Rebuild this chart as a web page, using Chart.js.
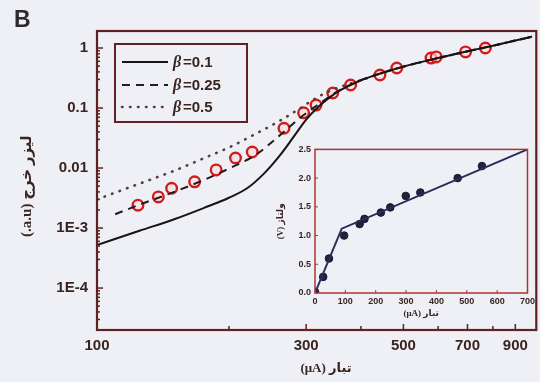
<!DOCTYPE html>
<html>
<head>
<meta charset="utf-8">
<script src="https://cdn.jsdelivr.net/npm/chart.js@4.4.0/dist/chart.umd.min.js"></script>
<style>
  html, body { margin: 0; padding: 0; background: #eef0f5; }
  #wrap { position: relative; width: 540px; height: 382px; overflow: hidden; }
  #mainChart { position: absolute; left: 0; top: 0; }
  #insetChart { position: absolute; left: 268px; top: 140px; }
  #panel { position: absolute; left: 14px; top: 6px; font: bold 23px 'Liberation Sans', Arial, sans-serif; color: #2b2b2b; }
</style>
</head>
<body>
<div id="wrap">
  <canvas id="mainChart" width="540" height="382"></canvas>
  <canvas id="insetChart" width="270" height="185"></canvas>
  <div id="panel">B</div>
</div>
<script>
// main plot: model curves (log-log), one current grid per curve
const solidCurrent = [100, 125, 150, 175, 200, 220, 240, 260, 280, 300, 320, 340, 360, 400, 450, 500, 600, 700, 800, 900, 984];
const beta01 = [5.2e-4, 9.0e-4, 1.4e-3, 2.15e-3, 3.2e-3, 4.6e-3, 8.0e-3, 0.0155, 0.032, 0.064, 0.105, 0.152, 0.2, 0.29, 0.39, 0.49, 0.68, 0.88, 1.09, 1.33, 1.55];

const dashCurrent = [110, 125, 150, 175, 200, 230, 260, 290, 320, 350, 400, 450, 500, 600, 700, 800, 900, 984];
const beta025 = [1.7e-3, 2.45e-3, 4.0e-3, 6.3e-3, 9.8e-3, 0.0165, 0.034, 0.068, 0.115, 0.18, 0.29, 0.39, 0.49, 0.68, 0.88, 1.09, 1.33, 1.55];

const dotCurrent = [100, 125, 150, 175, 200, 230, 260, 290, 320, 350, 400, 450, 500, 600, 700, 800, 900, 984];
const beta05 = [3.0e-3, 5.5e-3, 9.0e-3, 0.0145, 0.022, 0.037, 0.06, 0.098, 0.155, 0.21, 0.29, 0.39, 0.49, 0.68, 0.88, 1.09, 1.33, 1.55];

// main plot: measured points (red circles)
const expCurrent = [124, 138, 148, 167, 187, 207, 226, 267, 296, 316, 345, 379, 442, 483, 578, 594, 693, 769];
const expOutput  = [2.4e-3, 3.3e-3, 4.6e-3, 5.9e-3, 9.3e-3, 0.0147, 0.0185, 0.046, 0.083, 0.112, 0.178, 0.242, 0.355, 0.464, 0.68, 0.71, 0.86, 1.0];

const xTicks = [100, 300, 500, 700, 900];
const yTicks = [1e-4, 1e-3, 0.01, 0.1, 1];
const yTickLabels = ['1E-4', '1E-3', '0.01', '0.1', '1'];

// inset: voltage vs current
const insetCurrent = [0, 27, 46, 96, 147, 163, 217, 248, 299, 347, 470, 550];
const insetVoltage = [0.02, 0.28, 0.60, 1.0, 1.20, 1.29, 1.40, 1.49, 1.69, 1.75, 2.0, 2.21];
const fitCurrent = [0, 88, 700];
const fitVoltage = [0, 1.12, 2.5];
const insetXTicks = [0, 100, 200, 300, 400, 500, 600, 700];
const insetYTicks = [0, 0.5, 1.0, 1.5, 2.0, 2.5];

const bg = '#eef0f5';
const frameColor = '#5e2222';
const textColor = '#3a2420';
const numFont = "'Liberation Sans', Arial, sans-serif";
const titleFont = "'Liberation Serif', 'DejaVu Sans', serif";

function toPoints(xs, ys) {
  return xs.map((x, i) => ({ x: x, y: ys[i] }));
}

// frame + inward tick marks for the main plot
const mainFrame = {
  id: 'mainFrame',
  afterDraw(chart) {
    const ctx = chart.ctx, a = chart.chartArea;
    const xs = chart.scales.x, ys = chart.scales.y;
    ctx.save();
    ctx.strokeStyle = frameColor;
    ctx.lineWidth = 1.5;
    for (let e = -5; e <= 0; e++) {
      for (let k = 1; k <= 9; k++) {
        const v = k * Math.pow(10, e);
        if (v < ys.min || v > ys.max) continue;
        const py = ys.getPixelForValue(v);
        const len = k === 1 ? 6 : 3;
        ctx.beginPath(); ctx.moveTo(a.left, py); ctx.lineTo(a.left + len, py); ctx.stroke();
      }
    }
    for (let v = 100; v <= 900; v += 100) {
      const px = xs.getPixelForValue(v);
      const len = xTicks.includes(v) ? 6 : 4;
      ctx.beginPath(); ctx.moveTo(px, a.bottom); ctx.lineTo(px, a.bottom - len); ctx.stroke();
    }
    ctx.lineWidth = 2.2;
    ctx.strokeRect(a.left, a.top, a.right - a.left + 4, a.bottom - a.top);
    ctx.restore();
  }
};

// legend box in the upper left of the plot
const mainLegend = {
  id: 'mainLegend',
  afterDraw(chart) {
    const ctx = chart.ctx;
    const box = { x: 115, y: 44, w: 132, h: 78 };
    ctx.save();
    ctx.fillStyle = bg;
    ctx.fillRect(box.x, box.y, box.w, box.h);
    ctx.strokeStyle = frameColor;
    ctx.lineWidth = 2;
    ctx.strokeRect(box.x, box.y, box.w, box.h);
    const rows = [62, 85, 107];
    const values = ['=0.1', '=0.25', '=0.5'];
    chart.data.datasets.slice(0, 3).forEach((ds, i) => {
      const y = rows[i];
      ctx.strokeStyle = ds.borderColor;
      ctx.lineWidth = ds.borderWidth;
      ctx.lineCap = ds.borderCapStyle || 'butt';
      ctx.setLineDash(ds.borderDash || []);
      ctx.beginPath(); ctx.moveTo(122, y); ctx.lineTo(168, y); ctx.stroke();
      ctx.setLineDash([]);
      ctx.fillStyle = textColor;
      ctx.textBaseline = 'middle';
      ctx.font = "italic bold 16px " + titleFont;
      ctx.fillText('β', 173, y + 1);
      ctx.font = "bold 15px " + numFont;
      ctx.fillText(values[i], 183, y + 1);
    });
    ctx.restore();
  }
};

new Chart(document.getElementById('mainChart'), {
  type: 'line',
  data: {
    datasets: [
      { label: 'β=0.1', data: toPoints(solidCurrent, beta01), borderColor: '#181414', borderWidth: 2, pointRadius: 0, cubicInterpolationMode: 'monotone' },
      { label: 'β=0.25', data: toPoints(dashCurrent, beta025), borderColor: '#221c1c', borderWidth: 2, borderDash: [8, 6], pointRadius: 0, cubicInterpolationMode: 'monotone' },
      { label: 'β=0.5', data: toPoints(dotCurrent, beta05), borderColor: '#5a3c3c', borderWidth: 2.6, borderDash: [0.5, 7.5], borderCapStyle: 'round', pointRadius: 0, cubicInterpolationMode: 'monotone' },
      { label: 'measured', data: toPoints(expCurrent, expOutput), showLine: false, pointRadius: 5.3, pointBorderWidth: 2.4, pointBorderColor: '#d01c1c', pointBackgroundColor: 'rgba(255,220,220,0.6)' }
    ]
  },
  options: {
    responsive: false,
    animation: false,
    layout: { padding: { top: 31, right: 0, left: 0, bottom: 0 } },
    plugins: { legend: { display: false }, tooltip: { enabled: false } },
    scales: {
      x: {
        type: 'logarithmic', min: 100, max: 984,
        afterBuildTicks: s => { s.ticks = xTicks.map(v => ({ value: v })); },
        afterFit: s => { s.height = 52; },
        grid: { display: false, drawTicks: false },
        border: { display: false },
        ticks: { padding: 7, maxRotation: 0, autoSkip: false, color: textColor, font: { family: numFont, size: 15, weight: 'bold' }, callback: (v, i) => String(xTicks[i]) },
        title: { display: true, text: '\u00A0\u00A0\u00A0\u00A0\u00A0\u00A0\u00A0\u202Bتبار (μA)\u202C', color: textColor, font: { family: titleFont, size: 13, weight: 'bold' }, padding: { top: 0, bottom: 6 } }
      },
      y: {
        type: 'logarithmic', min: 2e-5, max: 1.92,
        afterBuildTicks: s => { s.ticks = yTicks.map(v => ({ value: v })); },
        afterFit: s => { s.width = 97; },
        grid: { display: false, drawTicks: false },
        border: { display: false },
        ticks: { padding: 9, autoSkip: false, color: textColor, font: { family: numFont, size: 15, weight: 'bold' }, callback: (v, i) => yTickLabels[i] },
        title: { display: true, text: '\u202Bلیزر خرج (a.u.)\u202C\u00A0\u00A0\u00A0', color: textColor, font: { family: titleFont, size: 15, weight: 'bold' }, padding: { top: 18, bottom: 0 } }
      }
    }
  },
  plugins: [mainFrame, mainLegend]
});

// inset background, frame and inward ticks
const insetFrame = {
  id: 'insetFrame',
  beforeDraw(chart) {
    const a = chart.chartArea;
    chart.ctx.save();
    chart.ctx.fillStyle = bg;
    chart.ctx.fillRect(a.left, a.top, a.right - a.left, a.bottom - a.top);
    chart.ctx.restore();
  },
  afterDraw(chart) {
    const ctx = chart.ctx, a = chart.chartArea;
    ctx.save();
    ctx.strokeStyle = '#a83636';
    ctx.lineWidth = 1;
    insetXTicks.forEach(v => {
      const px = chart.scales.x.getPixelForValue(v);
      ctx.beginPath(); ctx.moveTo(px, a.bottom); ctx.lineTo(px, a.bottom - 3); ctx.stroke();
    });
    insetYTicks.forEach(v => {
      const py = chart.scales.y.getPixelForValue(v);
      ctx.beginPath(); ctx.moveTo(a.left, py); ctx.lineTo(a.left + 3, py); ctx.stroke();
    });
    ctx.lineWidth = 1.5;
    ctx.strokeRect(a.left, a.top, a.right - a.left, a.bottom - a.top);
    ctx.restore();
  }
};

new Chart(document.getElementById('insetChart'), {
  type: 'line',
  data: {
    datasets: [
      { label: 'fit', data: toPoints(fitCurrent, fitVoltage), borderColor: '#2e2a5c', borderWidth: 2, pointRadius: 0, tension: 0 },
      { label: 'voltage', data: toPoints(insetCurrent, insetVoltage), showLine: false, pointRadius: 3.8, pointBorderWidth: 1, pointBorderColor: '#1a1a2c', pointBackgroundColor: '#22223a' }
    ]
  },
  options: {
    responsive: false,
    animation: false,
    layout: { padding: { top: 8, right: 8, left: 0, bottom: 0 } },
    plugins: { legend: { display: false }, tooltip: { enabled: false } },
    scales: {
      x: {
        type: 'linear', min: 0, max: 700,
        afterBuildTicks: s => { s.ticks = insetXTicks.map(v => ({ value: v })); },
        afterFit: s => { s.height = 32; },
        grid: { display: false, drawTicks: false },
        border: { display: false },
        ticks: { padding: 3, maxRotation: 0, autoSkip: false, color: textColor, font: { family: numFont, size: 9, weight: 'bold' } },
        title: { display: true, text: '\u202Bتبار (μA)\u202C', color: textColor, font: { family: titleFont, size: 9, weight: 'bold' }, padding: { top: 0, bottom: 6 } }
      },
      y: {
        type: 'linear', min: 0, max: 2.5,
        afterBuildTicks: s => { s.ticks = insetYTicks.map(v => ({ value: v })); },
        afterFit: s => { s.width = 47; },
        grid: { display: false, drawTicks: false },
        border: { display: false },
        ticks: { padding: 4, autoSkip: false, color: textColor, font: { family: numFont, size: 9, weight: 'bold' }, callback: v => v.toFixed(1) },
        title: { display: true, text: '\u202Bولتاژ (V)\u202C', color: textColor, font: { family: titleFont, size: 9, weight: 'bold' }, padding: { top: 7, bottom: 0 } }
      }
    }
  },
  plugins: [insetFrame]
});
</script>
</body>
</html>
